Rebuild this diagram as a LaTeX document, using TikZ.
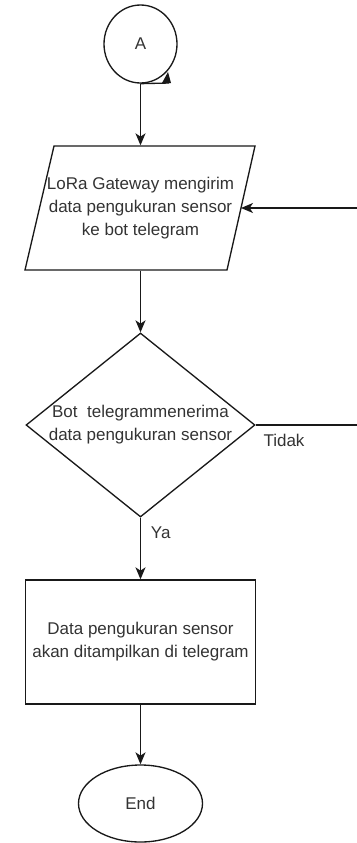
\documentclass[tikz,border=0pt]{standalone}
\usepackage{fontspec}
\setmainfont{Liberation Sans}
\usetikzlibrary{shapes.geometric,arrows.meta}
\begin{document}
\begin{tikzpicture}[x=0.75pt,y=-0.75pt,
  line width=1pt,
  every node/.style={font=\fontsize{12.75}{17.25}\selectfont, text=black!80, align=center},
  box/.style={draw=black!90, line width=1pt, inner sep=0pt},
  conn/.style={draw=black!90, line width=1pt},
  arr/.style={conn, -{Stealth[length=9pt,width=7.5pt,inset=2.5pt]}}]
\useasboundingbox (0,0) rectangle (357,843);

% start connector A
\node[box, ellipse, minimum width=54.75pt, minimum height=58.5pt] (A) at (140.5,44) {A};

% parallelogram (input / output)
\node[inner sep=0pt, minimum width=150pt, minimum height=93pt] (P) at (140.5,208)
  {LoRa Gateway mengirim\\data pengukuran sensor\\ke bot telegram};
\draw[box] (25,270) -- (54,146) -- (255,146) -- (227,270) -- cycle;
\coordinate (Pr) at (241,208);

% decision
\node[box, diamond, minimum width=171.75pt, minimum height=138pt,
  label={center:{Bot\ \ telegrammenerima\\data pengukuran sensor}}] (D) at (140.5,425) {};

% process
\node[box, rectangle, minimum width=172.5pt, minimum height=93pt] (R) at (140.5,642)
  {Data pengukuran sensor\\akan ditampilkan di telegram};

% end
\node[box, ellipse, minimum width=93pt, minimum height=57.75pt] (E) at (140.5,803.5) {End};

% stray arrow on the start connector
\coordinate (As) at (169,83);
\draw[conn] (A.south) -- (As);
\fill[black!90] (162,83) -- (171,83) -- (168,72) -- cycle;

% connectors
\draw[arr] (A.south) -- (P.north);
\draw[arr] (P.south) -- (D.north);
\draw[arr] (D.south) -- node[pos=0.25, right=4pt] {Ya} (R.north);
\draw[arr] (R.south) -- (E.north);

% "Tidak" loop back (vertical part lies beyond the right edge)
\coordinate (T1) at (365,425);
\coordinate (T2) at (365,208);
\draw[arr] (D.east) -- (T1) -- (T2) -- (Pr);
\node (Tl) at (284,440) {Tidak};
\end{tikzpicture}
\end{document}
